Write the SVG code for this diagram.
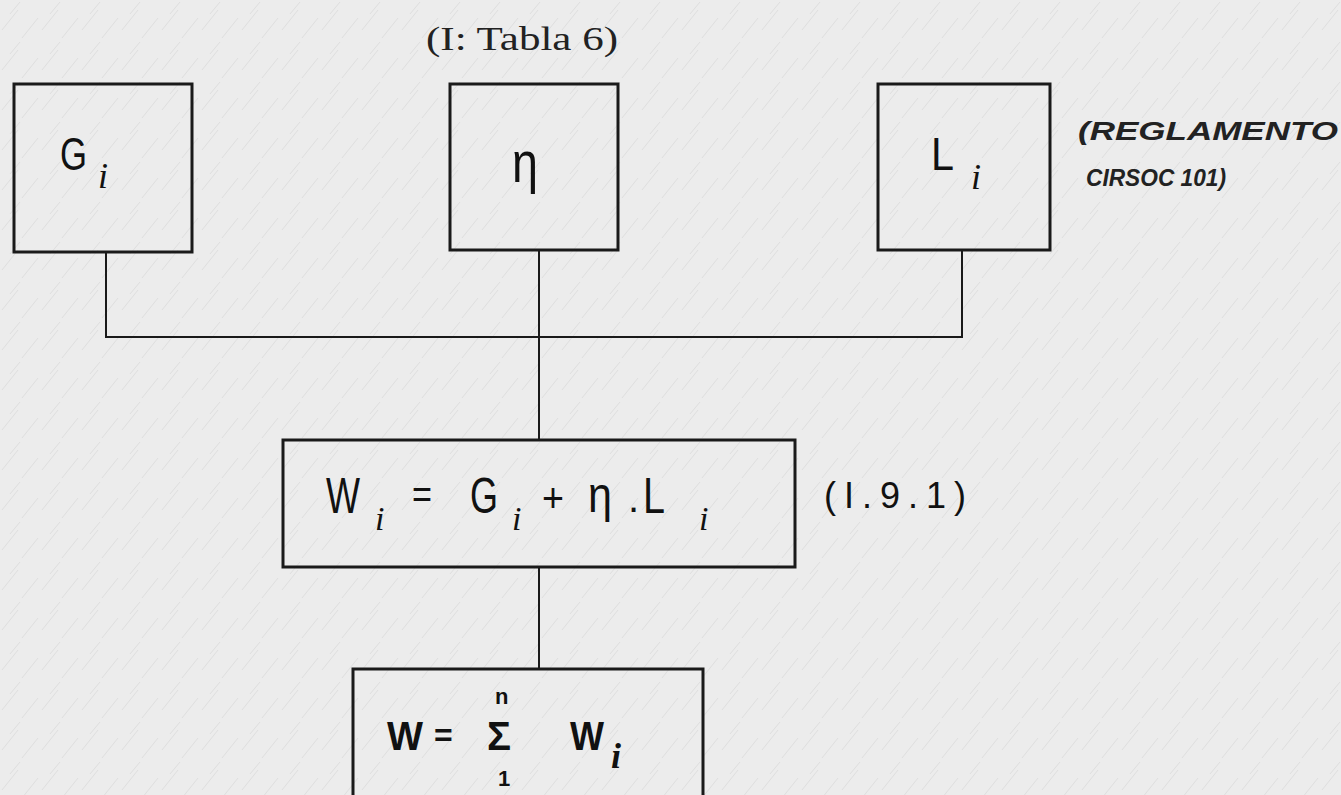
<svg xmlns="http://www.w3.org/2000/svg" width="1341" height="795" viewBox="0 0 1341 795">
<defs>
<pattern id="paper" width="40" height="40" patternUnits="userSpaceOnUse">
<rect width="40" height="40" fill="#ececec"/>
<path d="M2 30 L18 10 M22 38 L38 18 M10 14 L20 2" stroke="#dedede" stroke-width="1"/>
</pattern>
</defs>
<style>
.box{fill:none;stroke:#1a1a1a;stroke-width:3}
.conn{fill:none;stroke:#1a1a1a;stroke-width:2}
.m{font-family:"Liberation Sans",Arial,sans-serif;fill:#111}
.sub{font-family:"Liberation Serif","Times New Roman",serif;font-style:italic;fill:#111}
.ser{font-family:"Liberation Serif","Times New Roman",serif;fill:#222}
.note{font-family:"Liberation Sans",Arial,sans-serif;font-style:italic;font-weight:bold;fill:#222}
</style>
<rect width="1341" height="795" fill="url(#paper)"/>

<g id="connectors">
<path class="conn" d="M106 252 V337 H962 V250"/>
<path class="conn" d="M539 250 V440"/>
<path class="conn" d="M539 567 V669"/>
</g>

<g id="label-tabla">
<text class="ser" x="426" y="50" font-size="34" textLength="192" lengthAdjust="spacingAndGlyphs">(I: Tabla 6)</text>
</g>

<g id="node-G">
<rect class="box" x="14" y="84" width="178" height="168"/>
<text class="m" font-size="46"><tspan x="60" y="170" textLength="27" lengthAdjust="spacingAndGlyphs">G</tspan><tspan class="sub" x="98" y="188" font-size="36">i</tspan></text>
</g>

<g id="node-eta">
<rect class="box" x="450" y="84" width="168" height="166"/>
<text class="m" x="512" y="182" font-size="58" textLength="26" lengthAdjust="spacingAndGlyphs">η</text>
</g>

<g id="node-L">
<rect class="box" x="878" y="84" width="172" height="166"/>
<text class="m" font-size="46"><tspan x="931" y="170" textLength="23" lengthAdjust="spacingAndGlyphs">L</tspan><tspan class="sub" x="971" y="189" font-size="36">i</tspan></text>
</g>

<g id="label-reglamento">
<text class="note" x="1078" y="140" font-size="26" textLength="260" lengthAdjust="spacingAndGlyphs">(REGLAMENTO</text>
<text class="note" x="1086" y="186" font-size="24" textLength="140" lengthAdjust="spacingAndGlyphs">CIRSOC 101)</text>
</g>

<g id="node-Wi">
<rect class="box" x="283" y="440" width="512" height="127"/>
<text class="m" font-size="50"><tspan x="326" y="513" textLength="34" lengthAdjust="spacingAndGlyphs">W</tspan><tspan class="sub" x="375" y="530" font-size="34">i</tspan><tspan x="412" y="508" font-size="40" textLength="20" lengthAdjust="spacingAndGlyphs">=</tspan><tspan x="470" y="513" textLength="28" lengthAdjust="spacingAndGlyphs">G</tspan><tspan class="sub" x="512" y="530" font-size="34">i</tspan><tspan x="542" y="512" font-size="40" textLength="22" lengthAdjust="spacingAndGlyphs">+</tspan><tspan x="588" y="512" textLength="24" lengthAdjust="spacingAndGlyphs">η</tspan><tspan x="628" y="512" font-size="40">.</tspan><tspan x="643" y="513" textLength="22" lengthAdjust="spacingAndGlyphs">L</tspan><tspan class="sub" x="699" y="530" font-size="34">i</tspan></text>
</g>

<g id="label-eq">
<text class="m" x="824" y="508" font-size="36" letter-spacing="8">(I.9.1)</text>
</g>

<g id="node-W">
<rect class="box" x="353" y="669" width="350" height="140"/>
<text class="m" x="387" y="750" font-size="40" font-weight="bold" textLength="36" lengthAdjust="spacingAndGlyphs">W</text>
<text class="m" x="434" y="746" font-size="32" font-weight="bold">=</text>
<text class="m" x="495" y="704" font-size="22" font-weight="bold">n</text>
<text class="m" x="487" y="750" font-size="40" font-weight="bold">Σ</text>
<text class="m" x="498" y="786" font-size="22" font-weight="bold">1</text>
<text class="m" font-size="40" font-weight="bold"><tspan x="570" y="750" textLength="34" lengthAdjust="spacingAndGlyphs">W</tspan><tspan class="sub" x="611" y="768" font-size="36">i</tspan></text>
</g>
</svg>
